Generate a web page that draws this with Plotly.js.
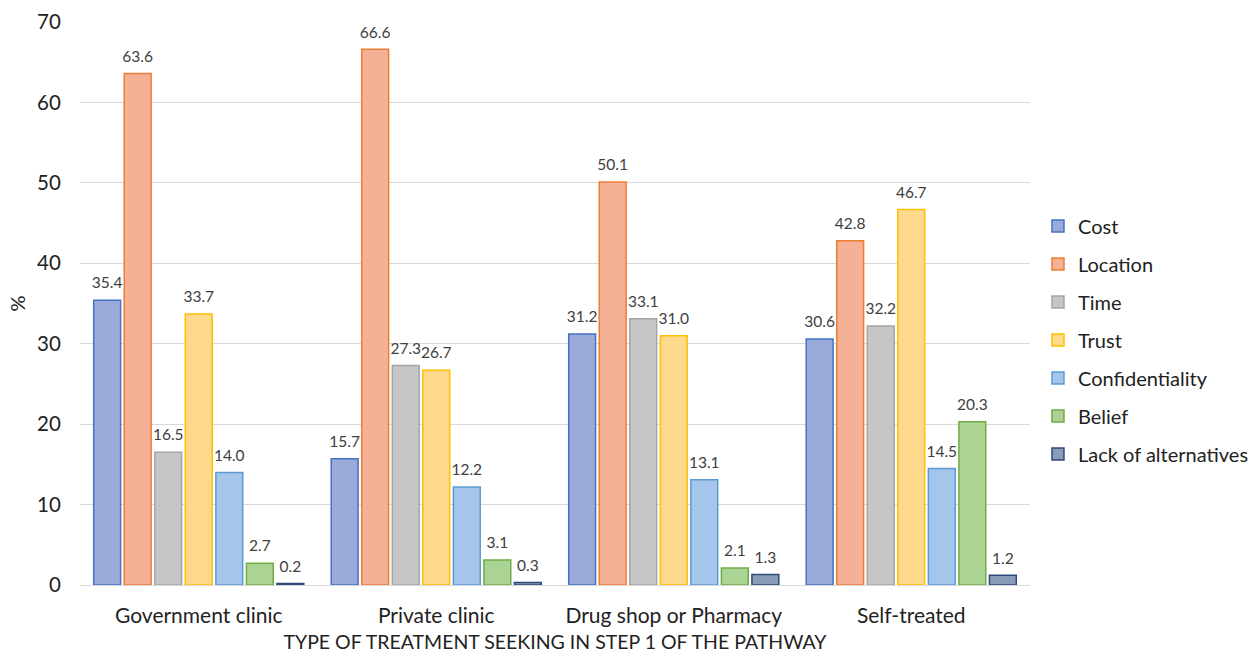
<!DOCTYPE html>
<html>
<head>
<meta charset="utf-8">
<script src="https://cdn.plot.ly/plotly-3.0.1.min.js"></script>
<style>
  html, body { margin: 0; padding: 0; background: #ffffff; }
  #chart { width: 1253px; height: 653px; }
</style>
</head>
<body>
<div id="chart"></div>
<script>
// Treatment types in step 1 of the pathway
const categories = ['Government clinic', 'Private clinic', 'Drug shop or Pharmacy', 'Self-treated'];

// Reasons for choosing the treatment (% of respondents)
const costPct            = [35.4, 15.7, 31.2, 30.6];
const locationPct        = [63.6, 66.6, 50.1, 42.8];
const timePct            = [16.5, 27.3, 33.1, 32.2];
const trustPct           = [33.7, 26.7, 31.0, 46.7];
const confidentialityPct = [14.0, 12.2, 13.1, 14.5];
const beliefPct          = [2.7, 3.1, 2.1, 20.3];
const lackAltPct         = [0.2, 0.3, 1.3, 1.2];

const seriesNames = ['Cost', 'Location', 'Time', 'Trust', 'Confidentiality', 'Belief', 'Lack of alternatives'];
const seriesValues = [costPct, locationPct, timePct, trustPct, confidentialityPct, beliefPct, lackAltPct];

const fills   = ['#9aabdb', '#f5b196', '#c6c6c6', '#ffd98c', '#a5c5ea', '#abd393', '#8a9bb8'];
const borders = ['#4472c4', '#ed7d31', '#a5a5a5', '#ffc000', '#5b9bd5', '#70ad47', '#2f4a7a'];

const FONT = 'Lato, "Open Sans", sans-serif';

const traces = seriesNames.map((name, i) => ({
  type: 'bar',
  name: name,
  x: categories,
  y: seriesValues[i],
  legendgroup: 'g' + i,
  marker: { color: fills[i], line: { color: borders[i], width: 1.5 } },
  // value label in a larger span; the short blank line under it keeps a gap above the bar
  texttemplate: '<span style="font-size:15.5px">%{y:.1f}</span><br> ',
  textposition: 'outside',
  constraintext: 'none',
  cliponaxis: false,
  textfont: { family: FONT, size: 6, color: '#404040' },
  hoverinfo: 'x+y+name'
}));

const layout = {
  width: 1253,
  height: 653,
  margin: { l: 80, r: 223, t: 22, b: 68, autoexpand: false },
  paper_bgcolor: '#ffffff',
  plot_bgcolor: '#ffffff',
  font: { family: FONT, color: '#404040', size: 18 },
  barmode: 'group',
  bargap: 0.1,
  bargroupgap: 0.12,
  showlegend: true,
  legend: {
    x: 1.0084, xanchor: 'left',
    y: 0.435, yanchor: 'middle',
    traceorder: 'grouped',
    tracegroupgap: 9,
    font: { family: FONT, size: 20, color: '#222222' },
    bgcolor: 'rgba(0,0,0,0)'
  },
  xaxis: {
    type: 'category',
    showgrid: false,
    showline: true,
    linecolor: '#d9d9d9',
    linewidth: 1,
    ticks: '',
    ticklabelstandoff: 12,
    tickfont: { family: FONT, size: 21, color: '#222222' },
    title: {
      text: 'TYPE OF TREATMENT SEEKING IN STEP 1 OF THE PATHWAY',
      font: { family: FONT, size: 19.5, color: '#222222' },
      standoff: 9
    }
  },
  yaxis: {
    range: [0, 70],
    dtick: 10,
    showgrid: true,
    gridcolor: '#d9d9d9',
    gridwidth: 1,
    zeroline: false,
    showline: false,
    ticks: 'outside',
    ticklen: 14,
    tickcolor: 'rgba(0,0,0,0)',
    tickfont: { family: FONT, size: 20.5, color: '#222222' },
    title: {
      text: '%',
      font: { family: FONT, size: 20, color: '#222222' },
      standoff: 6
    }
  }
};

Plotly.newPlot('chart', traces, layout, { displayModeBar: false, responsive: false });
</script>
</body>
</html>
